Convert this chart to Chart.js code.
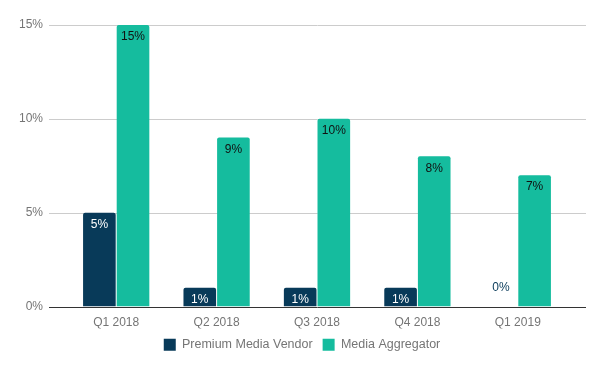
<!DOCTYPE html>
<html>
<head>
<meta charset="utf-8">
<script src="https://cdn.jsdelivr.net/npm/chart.js@4"></script>
<style>
  html, body { margin: 0; padding: 0; background: #fff; overflow: hidden; }
  canvas { display: block; }
</style>
</head>
<body>
<canvas id="chart" width="604" height="371"></canvas>
<script>
var quarters = ['Q1 2018', 'Q2 2018', 'Q3 2018', 'Q4 2018', 'Q1 2019'];
var premiumVendor = [5, 1, 1, 1, 0];
var mediaAggregator = [15, 9, 10, 8, 7];
var yTicks = [0, 5, 10, 15];

var NAVY = '#083a59';
var TEAL = '#15bc9e';
var GREY = '#757575';
var FONT = '"Liberation Sans", Arial, sans-serif';

// grid lines run wider than the bar area, like the original
var wideGrid = {
    id: 'wideGrid',
    beforeDatasetsDraw: function (chart) {
        var ctx = chart.ctx, y = chart.scales.y;
        ctx.save();
        ctx.strokeStyle = '#cccccc';
        ctx.lineWidth = 1;
        yTicks.forEach(function (t) {
            if (t === 0) return;
            var py = Math.round(y.getPixelForValue(t)) + 0.5;
            ctx.beginPath();
            ctx.moveTo(49, py);
            ctx.lineTo(586, py);
            ctx.stroke();
        });
        ctx.restore();
    },
    afterDatasetsDraw: function (chart) {
        var ctx = chart.ctx, y = chart.scales.y;
        ctx.save();
        ctx.strokeStyle = '#333333';
        ctx.lineWidth = 1;
        var py = Math.round(y.getPixelForValue(0)) + 0.5;
        ctx.beginPath();
        ctx.moveTo(49, py);
        ctx.lineTo(586, py);
        ctx.stroke();

        // value labels
        ctx.font = '12px ' + FONT;
        ctx.textAlign = 'center';
        ctx.textBaseline = 'middle';
        chart.data.datasets.forEach(function (ds, di) {
            var meta = chart.getDatasetMeta(di);
            meta.data.forEach(function (bar, i) {
                var v = ds.data[i];
                var txt = v + '%';
                if (v === 0) {
                    ctx.fillStyle = NAVY;
                    ctx.fillText(txt, bar.x, bar.y - 19);
                } else {
                    ctx.fillStyle = di === 0 ? '#ffffff' : '#111111';
                    ctx.fillText(txt, bar.x, bar.y + 12);
                }
            });
        });
        ctx.restore();
    }
};

new Chart(document.getElementById('chart').getContext('2d'), {
    type: 'bar',
    data: {
        labels: quarters,
        datasets: [{
            label: 'Premium Media Vendor',
            data: premiumVendor,
            backgroundColor: NAVY,
            borderRadius: { topLeft: 2, topRight: 2 },
            borderSkipped: 'bottom',
            categoryPercentage: 0.67,
            barPercentage: 0.97
        }, {
            label: 'Media Aggregator',
            data: mediaAggregator,
            backgroundColor: TEAL,
            borderRadius: { topLeft: 2, topRight: 2 },
            borderSkipped: 'bottom',
            categoryPercentage: 0.67,
            barPercentage: 0.97
        }]
    },
    options: {
        responsive: false,
        animation: false,
        layout: { padding: { top: 25, right: 0, bottom: 10, left: 0 } },
        scales: {
            x: {
                grid: { display: false, drawTicks: false },
                border: { display: false },
                afterFit: function (scale) { scale.height = 22; },
                ticks: {
                    color: GREY,
                    font: { family: FONT, size: 12 },
                    padding: 9
                }
            },
            y: {
                min: 0,
                max: 15,
                grid: { display: false, drawTicks: false },
                border: { display: false },
                afterFit: function (scale) {
                    scale.width = 66;
                    scale.paddingTop = 0;
                    scale.paddingBottom = 0;
                },
                ticks: {
                    stepSize: 5,
                    color: GREY,
                    font: { family: FONT, size: 12 },
                    padding: 23,
                    callback: function (v) { return v + '%'; }
                }
            },
            // empty right-hand axis, only keeps the space beside the bars
            yRight: {
                position: 'right',
                min: 0,
                max: 15,
                grid: { display: false, drawTicks: false },
                border: { display: false },
                ticks: { display: false },
                afterFit: function (scale) {
                    scale.width = 36;
                    scale.paddingTop = 0;
                    scale.paddingBottom = 0;
                }
            }
        },
        plugins: {
            legend: {
                position: 'bottom',
                labels: {
                    color: GREY,
                    font: { family: FONT, size: 12.5 },
                    boxWidth: 12,
                    boxHeight: 12,
                    padding: 10,
                    generateLabels: function (chart) {
                        return chart.data.datasets.map(function (ds, i) {
                            return {
                                text: ds.label,
                                fillStyle: ds.backgroundColor,
                                strokeStyle: ds.backgroundColor,
                                lineWidth: 0,
                                fontColor: GREY,
                                datasetIndex: i
                            };
                        });
                    }
                }
            },
            tooltip: { enabled: false }
        }
    },
    plugins: [wideGrid]
});
</script>
</body>
</html>
